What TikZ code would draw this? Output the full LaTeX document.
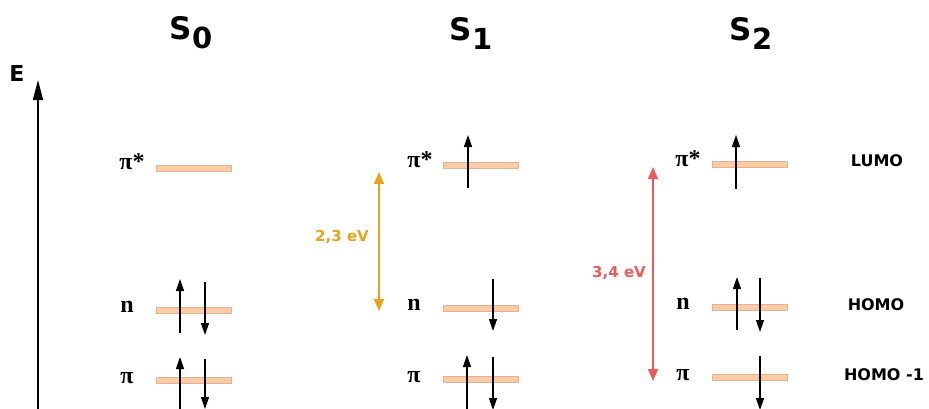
\documentclass[tikz,border=0pt]{standalone}
\usepackage{fontspec}
\setmainfont{DejaVu Sans}
\newfontfamily\lblserif{Liberation Serif}
\usetikzlibrary{arrows.meta}
\definecolor{barfill}{RGB}{253,203,164}
\definecolor{bardraw}{RGB}{225,180,150}
\definecolor{gaporange}{RGB}{232,162,28}
\definecolor{gapred}{RGB}{236,90,90}
\begin{document}
\begin{tikzpicture}[x=1pt,y=-1pt,
 lvl/.style={rectangle, minimum width=75pt, minimum height=6pt, inner sep=0pt, fill=barfill, draw=bardraw, line width=0.6pt},
 el/.style={line width=1.3pt, -{Triangle[length=12pt,width=8pt]}},
 orb/.style={font=\lblserif\bfseries\fontsize{24}{24}\selectfont, inner sep=0pt},
 side/.style={font=\bfseries\fontsize{16}{16}\selectfont, inner sep=0pt},
 ttl/.style={font=\bfseries\fontsize{31}{31}\selectfont, inner sep=0pt},
 gap/.style={line width=1.6pt, {Triangle[length=12pt,width=10pt]}-{Triangle[length=12pt,width=10pt]}},
 gaplbl/.style={font=\bfseries\fontsize{15}{15}\selectfont, inner sep=0pt}
]
\useasboundingbox (0,0) rectangle (929,408);
% titles
\node[ttl] (t0) at (191,33) {S\raisebox{-9pt}{\fontsize{29}{29}\selectfont 0}};
\node[ttl] (t1) at (471,33) {S\raisebox{-9pt}{\fontsize{29}{29}\selectfont 1}};
\node[ttl] (t2) at (751,33) {S\raisebox{-9pt}{\fontsize{29}{29}\selectfont 2}};
% energy axis
\node[font=\bfseries\fontsize{22}{22}\selectfont, inner sep=0pt] (E) at (17,73) {E};
\coordinate (ebot) at (38,410);
\coordinate (etop) at (38,80);
\draw[line width=1.5pt, -{Triangle[length=20pt,width=10pt]}] (ebot) -- (etop);
% S0 levels
\node[lvl] (a3) at (194,168) {};
\node[lvl] (a2) at (194,310.5) {};
\node[lvl] (a1) at (194,380) {};
\node[orb] (la3) at (132,162) {π*};
\node[orb] (la2) at (127,307) {n};
\node[orb] (la1) at (127,378) {π};
\draw[el] ([shift={(-14,22.5)}]a2.center) -- ([shift={(-14,-31.5)}]a2.center);
\draw[el] ([shift={(11,-28.5)}]a2.center) -- ([shift={(11,24.5)}]a2.center);
\draw[el] ([shift={(-14,30)}]a1.center) -- ([shift={(-14,-23)}]a1.center);
\draw[el] ([shift={(11,-21)}]a1.center) -- ([shift={(11,29)}]a1.center);
% S1 levels
\node[lvl] (b3) at (481,165) {};
\node[lvl] (b2) at (481,308) {};
\node[lvl] (b1) at (481,379) {};
\node[orb] (lb3) at (420,160) {π*};
\node[orb] (lb2) at (414,305) {n};
\node[orb] (lb1) at (414,377) {π};
\draw[el] ([shift={(-13,23)}]b3.center) -- ([shift={(-13,-30)}]b3.center);
\draw[el] ([shift={(12,-29)}]b2.center) -- ([shift={(12,23)}]b2.center);
\draw[el] ([shift={(-14,31)}]b1.center) -- ([shift={(-14,-24)}]b1.center);
\draw[el] ([shift={(12,-22)}]b1.center) -- ([shift={(12,31)}]b1.center);
% S2 levels
\node[lvl] (c3) at (750,164) {};
\node[lvl] (c2) at (750,307) {};
\node[lvl] (c1) at (750,377) {};
\node[orb] (lc3) at (688,159) {π*};
\node[orb] (lc2) at (683,304) {n};
\node[orb] (lc1) at (683,375) {π};
\draw[el] ([shift={(-14,25)}]c3.center) -- ([shift={(-14,-29)}]c3.center);
\draw[el] ([shift={(-13,23)}]c2.center) -- ([shift={(-13,-30)}]c2.center);
\draw[el] ([shift={(10,-29)}]c2.center) -- ([shift={(10,25)}]c2.center);
\draw[el] ([shift={(10,-21)}]c1.center) -- ([shift={(10,33)}]c1.center);
% side labels
\node[side] (lumo) at (877,161) {LUMO};
\node[side] (homo) at (876,305) {HOMO};
\node[side] (homo1) at (884,375) {HOMO -1};
% gaps
\coordinate (g1t) at (379,172);
\coordinate (g1b) at (379,311);
\draw[gap, draw=gaporange, fill=gaporange] (g1t) -- (g1b);
\node[gaplbl, text=gaporange] (g1l) at (342,237) {2,3 eV};
\coordinate (g2t) at (653,167);
\coordinate (g2b) at (653,381);
\draw[gap, draw=gapred, fill=gapred] (g2t) -- (g2b);
\node[gaplbl, text=gapred] (g2l) at (619,273) {3,4 eV};
\end{tikzpicture}
\end{document}
